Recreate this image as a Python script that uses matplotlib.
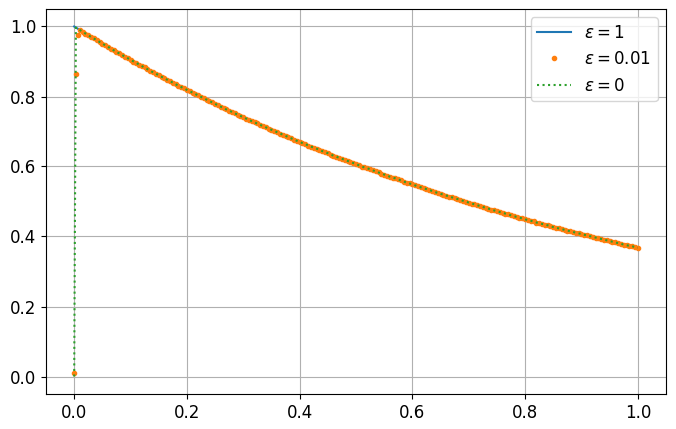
import numpy as np
import matplotlib
matplotlib.use("Agg")
import matplotlib.pyplot as plt

plt.rcParams['font.size'] = 12

# x grid (uniform, 101 points) for eps = 1 and eps = 0
x = np.linspace(0, 1, 101)

# eps = 1 solution values at x = 0, 0.01, ..., 1
y_eps1 = [1.000, 0.990, 0.980, 0.970, 0.961, 0.951, 0.942, 0.932, 0.923, 0.914,
          0.905, 0.896, 0.887, 0.878, 0.869, 0.861, 0.852, 0.844, 0.835, 0.827,
          0.819, 0.811, 0.803, 0.795, 0.787, 0.779, 0.771, 0.763, 0.756, 0.748,
          0.741, 0.733, 0.726, 0.719, 0.712, 0.705, 0.698, 0.691, 0.684, 0.677,
          0.670, 0.664, 0.657, 0.651, 0.644, 0.638, 0.631, 0.625, 0.619, 0.613,
          0.607, 0.600, 0.595, 0.589, 0.583, 0.577, 0.571, 0.566, 0.560, 0.554,
          0.549, 0.543, 0.538, 0.533, 0.527, 0.522, 0.517, 0.512, 0.507, 0.502,
          0.497, 0.492, 0.487, 0.482, 0.477, 0.472, 0.468, 0.463, 0.458, 0.454,
          0.449, 0.445, 0.440, 0.436, 0.432, 0.427, 0.423, 0.419, 0.415, 0.411,
          0.407, 0.403, 0.399, 0.395, 0.391, 0.387, 0.383, 0.379, 0.375, 0.372,
          0.368]

# eps = 0.01 dense points read at the midpoints x = 0.005, 0.015, ..., 0.995
y_eps001_mid = [0.995, 0.985, 0.975, 0.966, 0.956, 0.946, 0.937, 0.928, 0.918, 0.909,
                0.900, 0.891, 0.883, 0.874, 0.865, 0.856, 0.848, 0.839, 0.831, 0.823,
                0.815, 0.807, 0.799, 0.791, 0.783, 0.775, 0.767, 0.760, 0.752, 0.745,
                0.737, 0.730, 0.723, 0.715, 0.708, 0.701, 0.694, 0.687, 0.680, 0.674,
                0.667, 0.660, 0.654, 0.647, 0.641, 0.634, 0.628, 0.622, 0.616, 0.610,
                0.603, 0.598, 0.592, 0.586, 0.580, 0.574, 0.568, 0.563, 0.557, 0.552,
                0.546, 0.541, 0.535, 0.530, 0.525, 0.519, 0.514, 0.509, 0.504, 0.499,
                0.494, 0.489, 0.484, 0.480, 0.475, 0.470, 0.465, 0.461, 0.456, 0.452,
                0.447, 0.443, 0.438, 0.434, 0.429, 0.425, 0.421, 0.417, 0.413, 0.409,
                0.405, 0.401, 0.397, 0.393, 0.389, 0.385, 0.381, 0.377, 0.373, 0.370]

# boundary-layer points near x = 0
x_layer = [0.0, 0.003, 0.006]
y_layer_001 = [0.01, 0.865, 0.975]
y_layer_0 = [0.0, 0.997, 0.994]

# build eps = 0.01 series: layer points, then interleaved grid/midpoint values from x = 0.01
x_fine = np.linspace(0, 1, 201)
y_fine = []
for k in range(100):
    y_fine.append(y_eps1[k])
    y_fine.append(y_eps001_mid[k])
y_fine.append(y_eps1[100])
x_eps001 = x_layer + list(x_fine[2:])
y_eps001 = y_layer_001 + y_fine[2:]

# eps = 0: jump from 0 at x = 0 to the outer solution
x_eps0 = x_layer + list(x[1:])
y_eps0 = y_layer_0 + y_eps1[1:]

fig = plt.figure(figsize=(6.76, 4.29), dpi=100)
ax = fig.add_axes([46/676, 1 - 394/429, 620/676, 385/429])

ax.plot(x, y_eps1, '-', color='C0', label=r'$\varepsilon = 1$')
ax.plot(x_eps001, y_eps001, '.', color='C1', label=r'$\varepsilon = 0.01$')
ax.plot(x_eps0, y_eps0, ':', color='C2', label=r'$\varepsilon = 0$')

ax.set_xlim(-0.05, 1.05)
ax.set_ylim(-0.05, 1.05)
ax.grid(True)
ax.legend(loc='upper right')

fig.savefig('out.png', dpi=100)
